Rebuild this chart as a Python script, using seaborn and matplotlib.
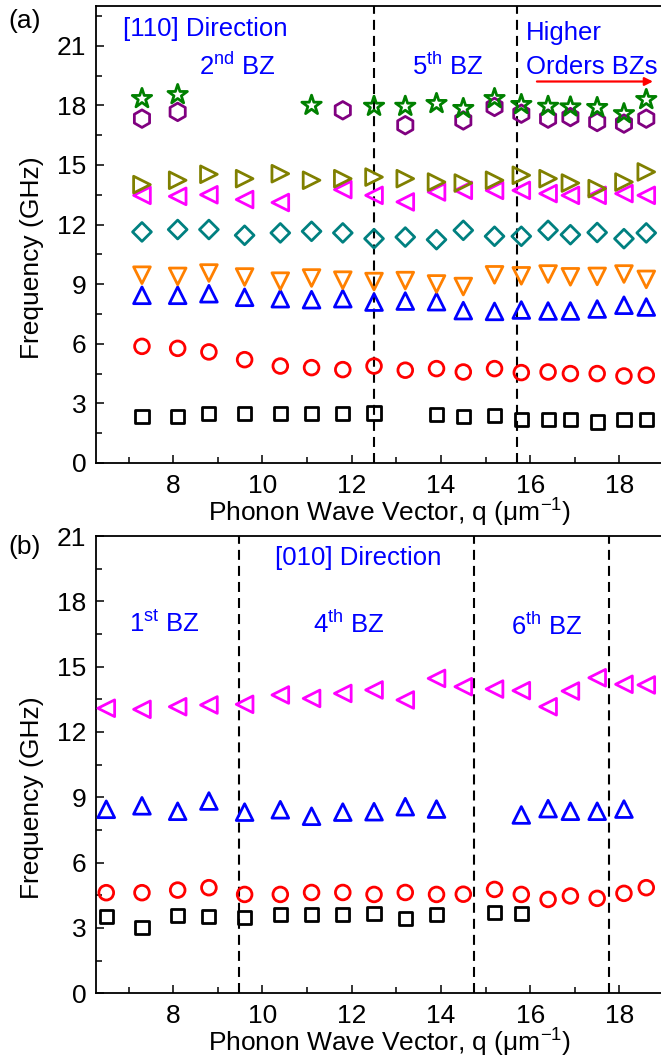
import numpy as np
import matplotlib
matplotlib.use("Agg")
import matplotlib.pyplot as plt
import seaborn as sns
from matplotlib.ticker import MultipleLocator

nan = np.nan

# ---------------- data: panel (a) [110] direction ----------------
Q_A = [7.3, 8.1, 8.8, 9.6, 10.4, 11.1, 11.8, 12.5, 13.2, 13.9, 14.5, 15.2,
       15.8, 16.4, 16.9, 17.5, 18.1, 18.6]
SQ_A = [2.35, 2.35, 2.49, 2.50, 2.50, 2.50, 2.50, 2.52, nan, 2.45, 2.35, 2.40,
        2.18, 2.18, 2.18, 2.06, 2.18, 2.18]
CIRC_A = [5.87, 5.77, 5.59, 5.20, 4.88, 4.80, 4.70, 4.88, 4.67, 4.75, 4.58, 4.75,
          4.55, 4.58, 4.50, 4.50, 4.38, 4.42]
UP_A = [8.44, 8.44, 8.52, 8.34, 8.27, 8.22, 8.27, 8.10, 8.15, 8.12, 7.67, 7.63,
        7.70, 7.65, 7.65, 7.75, 7.94, 7.85]
DOWN_A = [9.45, 9.39, 9.56, 9.36, 9.15, 9.31, 9.20, 9.13, 9.18, 9.01, 8.88, 9.47,
          9.42, 9.51, 9.37, 9.39, 9.51, 9.24]
DIA_A = [11.63, 11.75, 11.75, 11.46, 11.58, 11.66, 11.58, 11.29, 11.37, 11.24, 11.71,
         11.41, 11.41, 11.71, 11.49, 11.60, 11.29, 11.58]
LEFT_A = [13.47, 13.42, 13.50, 13.26, 13.11, nan, 13.76, 13.47, 13.14, 13.64, 13.72,
          13.72, 13.72, 13.56, 13.47, 13.47, 13.56, 13.47]
RIGHT_A = [14.01, 14.23, 14.53, 14.31, 14.56, 14.23, 14.31, 14.39, 14.31, 14.14, 14.09,
           14.23, 14.48, 14.31, 14.09, 13.81, 14.14, 14.65]
HEX_A = [17.33, 17.67, nan, nan, nan, nan, 17.75, nan, 17.00, nan, 17.24, 17.92,
         17.58, 17.33, 17.41, 17.16, 17.08, 17.33]
STAR_A = [18.34, 18.54, nan, nan, nan, 18.00, nan, 17.95, 17.95, 18.09, 17.84, 18.34,
          18.04, 17.95, 17.92, 17.89, 17.58, 18.29]
BZ_A = [12.5, 15.7]

# ---------------- data: panel (b) [010] direction ----------------
Q_B = [6.5, 7.3, 8.1, 8.8, 9.6, 10.4, 11.1, 11.8, 12.5, 13.2, 13.9, 14.5, 15.2,
       15.8, 16.4, 16.9, 17.5, 18.1, 18.6]
SQ_B = [3.52, 3.03, 3.56, 3.52, 3.47, 3.60, 3.60, 3.60, 3.67, 3.44, 3.60, nan, 3.70,
        3.67, nan, nan, nan, nan, nan]
CIRC_B = [4.62, 4.62, 4.74, 4.85, 4.54, 4.54, 4.63, 4.63, 4.54, 4.63, 4.54, 4.55, 4.77,
          4.54, 4.31, 4.47, 4.36, 4.59, 4.85]
UP_B = [8.45, 8.61, 8.36, 8.83, 8.32, 8.43, 8.13, 8.32, 8.34, 8.57, 8.46, nan, nan,
        8.19, 8.48, 8.36, 8.36, 8.46, nan]
LEFT_B = [13.09, 13.04, 13.16, 13.24, 13.27, 13.70, 13.54, 13.77, 13.93, 13.47, 14.46,
          14.08, 13.97, 13.90, 13.16, 13.88, 14.49, 14.19, 14.16]
BZ_B = [9.47, 14.73, 17.77]

YTICKS_A = [0, 3, 6, 9, 12, 15, 18, 21]
XTICKS = [8, 10, 12, 14, 16, 18]

# ---------------- style ----------------
sns.set_style("ticks")
plt.rcParams["font.family"] = ["Liberation Sans", "DejaVu Sans"]
plt.rcParams["mathtext.fontset"] = "custom"
plt.rcParams["mathtext.rm"] = "Liberation Sans"
plt.rcParams["mathtext.default"] = "regular"
plt.rcParams["axes.unicode_minus"] = False

W, H = 661, 1063
fig = plt.figure(figsize=(W / 100, H / 100), dpi=100)

def frac_box(l, t, r, b):
    return [l / W, 1 - b / H, (r - l) / W, (b - t) / H]

ax_a = fig.add_axes(frac_box(96, 6, 661, 463))
ax_b = fig.add_axes(frac_box(96, 536, 661, 993.3))

# marker style: (marker, color, size s)
STY = {
    "sq": ("s", "#000000", 90),
    "circ": ("o", "#ff0000", 112),
    "up": ("^", "#0000ff", 145),
    "down": ("v", "#ff8000", 145),
    "dia": ("D", "#008080", 92),
    "left": ("<", "#ff00ff", 145),
    "right": (">", "#808000", 145),
    "hex": ("h", "#800080", 160),
    "star": ("*", "#008000", 215),
}

def draw(ax, x, y, key):
    m, c, s = STY[key]
    sns.scatterplot(x=x, y=y, ax=ax, marker=m, s=s, color=c,
                    facecolor="none", edgecolor=c, linewidth=2.0,
                    legend=False, zorder=3, clip_on=True)

series_a = [("sq", SQ_A), ("circ", CIRC_A), ("up", UP_A), ("down", DOWN_A),
            ("dia", DIA_A), ("left", LEFT_A), ("right", RIGHT_A),
            ("hex", HEX_A), ("star", STAR_A)]
for key, vals in series_a:
    draw(ax_a, Q_A, vals, key)

series_b = [("sq", SQ_B), ("circ", CIRC_B), ("up", UP_B), ("left", LEFT_B)]
for key, vals in series_b:
    draw(ax_b, Q_B, vals, key)

for ax, bz in ((ax_a, BZ_A), (ax_b, BZ_B)):
    for xv in bz:
        ax.axvline(xv, color="black", lw=1.5, ls=(0, (4.8, 2.9)), zorder=2)

ax_a.set_ylim(0, 23)
ax_b.set_ylim(0, 21)
for ax in (ax_a, ax_b):
    ax.set_xlim(6.27, 18.93)
    ax.set_xticks(XTICKS)
    ax.set_yticks(YTICKS_A)
    ax.xaxis.set_minor_locator(MultipleLocator(1))
    ax.yaxis.set_minor_locator(MultipleLocator(1.5))
    ax.tick_params(which="both", direction="in", top=False, right=False,
                   colors="black", labelsize=19)
    ax.tick_params(which="major", length=6, width=1.1)
    ax.tick_params(which="minor", length=4, width=1.1)
    ax.tick_params(axis="x", pad=8)
    ax.tick_params(axis="y", pad=7)
    for side in ("left", "bottom", "top"):
        ax.spines[side].set_visible(True)
        ax.spines[side].set_linewidth(1.3)
        ax.spines[side].set_color("black")
    ax.spines["right"].set_visible(False)
    ax.set_xlabel("")
    ax.set_ylabel("")

blue = "#0000ff"
tkw = dict(color=blue, fontsize=18.5)
# panel (a) annotations
ax_a.text(6.88, 21.83, "[110] Direction", ha="left", va="center", **tkw)
ax_a.text(9.43, 19.95, "2$^{nd}$ BZ", ha="center", va="center", **tkw)
ax_a.text(14.15, 19.95, "5$^{th}$ BZ", ha="center", va="center", **tkw)
ax_a.text(15.9, 21.62, "Higher", ha="left", va="center", **tkw)
ax_a.text(15.9, 19.95, "Orders BZs", ha="left", va="center", **tkw)
ax_a.annotate("", xy=(18.75, 19.2), xytext=(16.15, 19.2),
              arrowprops=dict(arrowstyle="-|>", color="#ff0000", lw=1.6,
                              mutation_scale=12, shrinkA=0, shrinkB=0))
# panel (b) annotations
ax_b.text(10.27, 20.0, "[010] Direction", ha="left", va="center", **tkw)
ax_b.text(7.81, 16.95, "1$^{st}$ BZ", ha="center", va="center", **tkw)
ax_b.text(11.93, 16.95, "4$^{th}$ BZ", ha="center", va="center", **tkw)
ax_b.text(16.38, 16.85, "6$^{th}$ BZ", ha="center", va="center", **tkw)

# panel labels and axis labels
lab = dict(fontsize=19, color="black")
fig.text(25 / W, 1 - 21 / H, "(a)", ha="center", va="center", **lab)
fig.text(25 / W, 1 - 547 / H, "(b)", ha="center", va="center", **lab)
fig.text(32 / W, 1 - 258 / H, "Frequency (GHz)", rotation=90,
         ha="center", va="center", **lab)
fig.text(32 / W, 1 - 798 / H, "Frequency (GHz)", rotation=90,
         ha="center", va="center", **lab)
xl = "Phonon Wave Vector, q (μm$^{-1}$)"
fig.text(390 / W, 1 - 513 / H, xl, ha="center", va="center", **lab)
fig.text(390 / W, 1 - 1043 / H, xl, ha="center", va="center", **lab)

fig.savefig("out.png", dpi=100)
